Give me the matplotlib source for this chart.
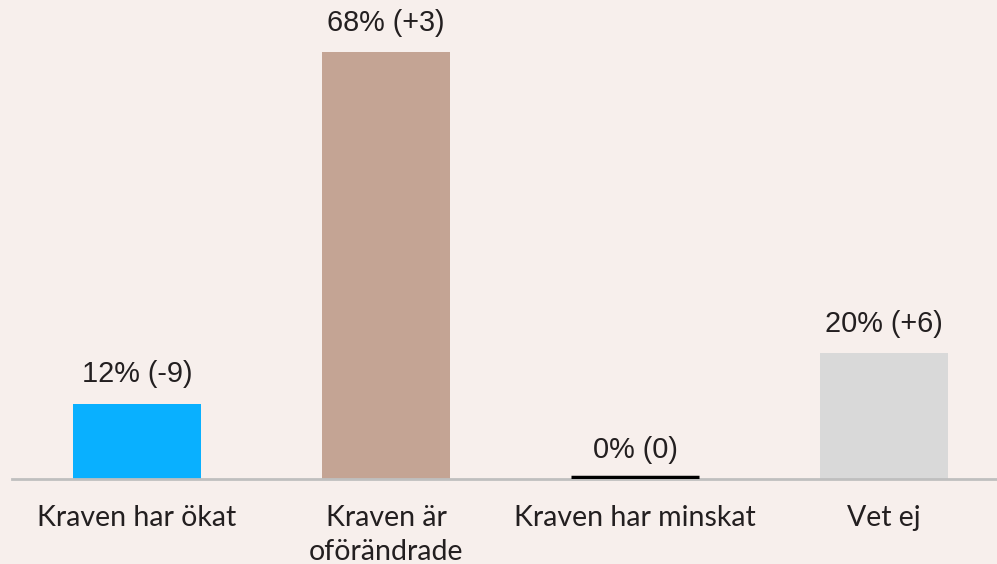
import matplotlib
matplotlib.use("Agg")
import matplotlib.pyplot as plt
import numpy as np

BG = "#F7EFEC"
TXT = "#231F20"

categories = ["Kraven har ökat", "Kraven är\noförändrade", "Kraven har minskat", "Vet ej"]
values = [12, 68, 0, 20]
changes = ["-9", "+3", "0", "+6"]
colors = ["#09B0FF", "#C4A494", "#000000", "#D9D9D9"]

fig = plt.figure(figsize=(9.97, 5.64), dpi=100, facecolor=BG)
ax = fig.add_axes([12 / 997, 85 / 564, 985 / 997, 479 / 564])
ax.set_facecolor(BG)

x = np.arange(len(categories))
bars = ax.bar(x, values, 0.514, color=colors, zorder=2)
for bar, val, col in zip(bars, values, colors):
    if val == 0:
        # zero bar shows as a thick line on the baseline
        ax.plot([bar.get_x(), bar.get_x() + bar.get_width()], [0.25, 0.25],
                color=col, lw=2.5, solid_capstyle="butt", zorder=3)

for xi, val, ch in zip(x, values, changes):
    ax.annotate(f"{val}% ({ch})", (xi, val), xytext=(0, 11), textcoords="offset points",
                ha="center", va="bottom", fontsize=20.8, color=TXT, family="Liberation Sans")

ax.set_xlim(-0.502, 3.454)
ax.set_ylim(0, 76.3)
ax.set_xticks(x)
ax.set_xticklabels(categories, fontsize=20.5, color=TXT, family="Lato", linespacing=1.35)
ax.tick_params(axis="x", length=0, pad=19)
ax.set_yticks([])
for s in ["top", "right", "left"]:
    ax.spines[s].set_visible(False)
ax.spines["bottom"].set_color("#BFBFBF")
ax.spines["bottom"].set_linewidth(2)

plt.savefig("out.png", dpi=100, facecolor=BG)
plt.close()
